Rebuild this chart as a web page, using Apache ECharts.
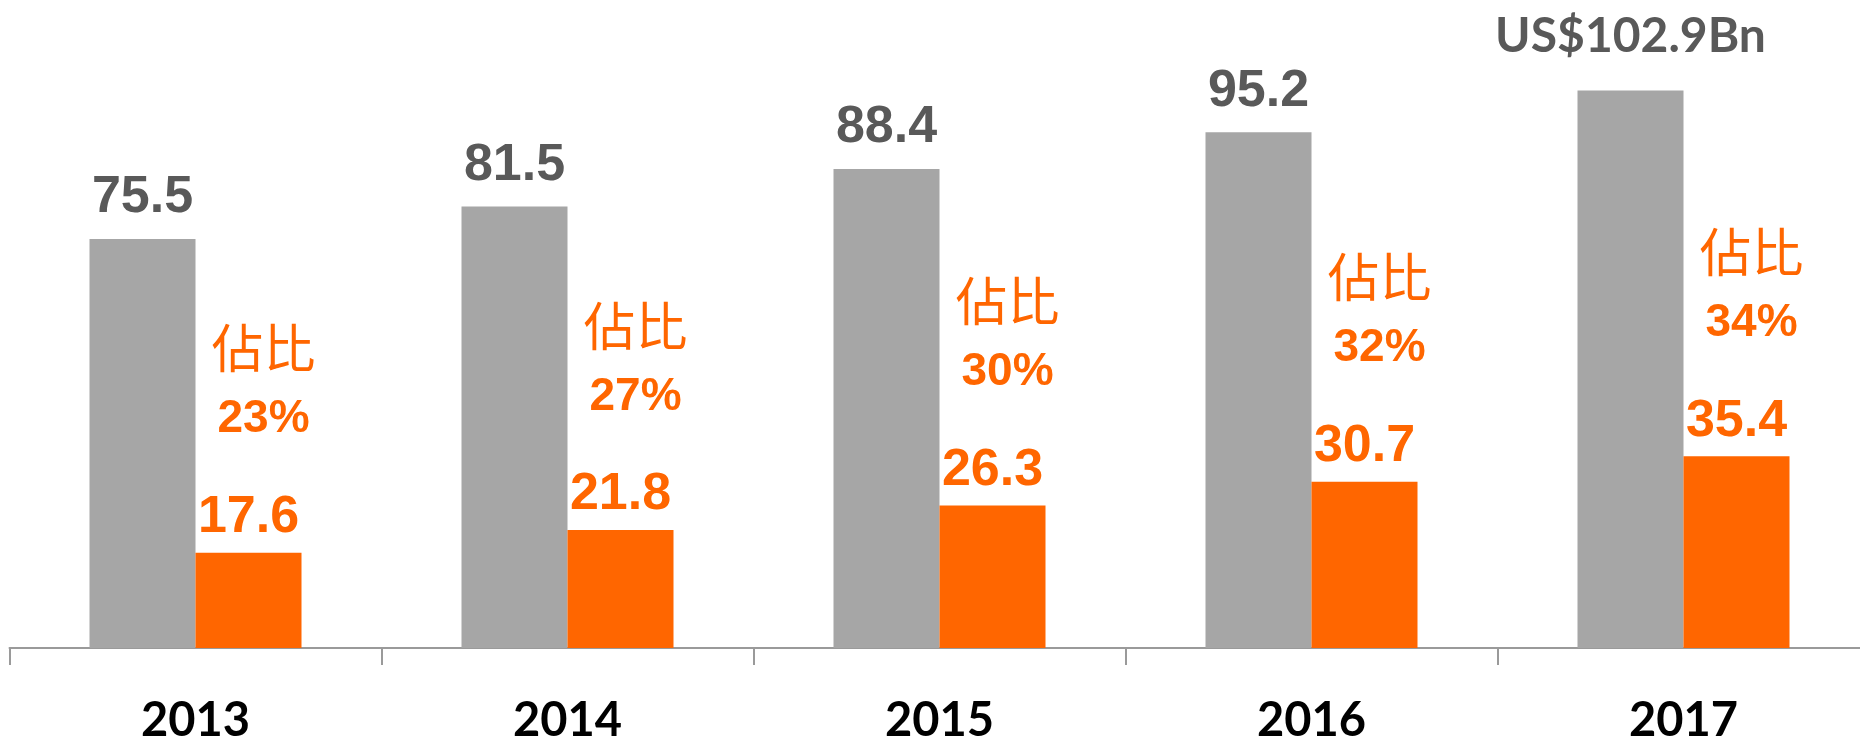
<!DOCTYPE html>
<html>
<head>
<meta charset="utf-8">
<script src="https://cdn.jsdelivr.net/npm/echarts@6/dist/echarts.min.js"></script>
<style>
  html, body { margin: 0; padding: 0; background: #fff; }
  #chart { width: 1860px; height: 736px; }
</style>
</head>
<body>
<div id="chart"></div>
<script>
// data
const years = ["2013", "2014", "2015", "2016", "2017"];
const totalValues = [75.5, 81.5, 88.4, 95.2, 102.9];
const mobileValues = [17.6, 21.8, 26.3, 30.7, 35.4];
const shareLabels = ["23%", "27%", "30%", "32%", "34%"];
const shareTitle = "佔比";

const GRAY = "#A6A6A6";
const ORANGE = "#FF6600";

const chart = echarts.init(document.getElementById("chart"));

// last gray bar carries the unit label
const totalData = totalValues.map((v, i) => {
  if (i !== totalValues.length - 1) return v;
  return {
    value: v,
    label: {
      formatter: "US$" + v + "Bn",
      fontFamily: "Lato",
      fontSize: 48,
      distance: 13,
    },
  };
});

const option = {
  animation: false,
  grid: {
    left: 9.5,
    right: -9.5,
    top: 52,
    bottom: 88,
    containLabel: false,
    outerBoundsMode: "none",
  },
  xAxis: {
    type: "category",
    data: years,
    axisLine: { show: true, lineStyle: { color: "#9A9A9A", width: 2 } },
    axisTick: {
      show: true,
      interval: 0,
      alignWithLabel: false,
      length: 17,
      lineStyle: { color: "#9A9A9A", width: 2 },
    },
    axisLabel: {
      margin: 43,
      fontFamily: "Lato",
      fontWeight: "bold",
      fontSize: 47,
      lineHeight: 60,
      color: "#000",
    },
  },
  yAxis: {
    type: "value",
    min: 0,
    max: 110,
    show: false,
    splitLine: { show: false },
  },
  series: [
    {
      name: "total",
      type: "bar",
      barWidth: 106,
      barGap: "0%",
      itemStyle: { color: GRAY },
      label: {
        show: true,
        position: "top",
        distance: 0,
        fontFamily: "Liberation Sans",
        fontWeight: "bold",
        fontSize: 52,
        lineHeight: 82,
        color: "#595959",
      },
      data: totalData,
    },
    {
      name: "mobile",
      type: "bar",
      barWidth: 106,
      itemStyle: { color: ORANGE },
      label: {
        show: true,
        position: "top",
        distance: -14,
        color: ORANGE,
        formatter: (p) =>
          "{s|" + shareTitle + "}\n{p|" + shareLabels[p.dataIndex] + "}\n{v|" + p.value + "}",
        rich: {
          s: {
            fontFamily: "Noto Sans CJK TC",
            fontSize: 52,
            lineHeight: 44,
            color: ORANGE,
            align: "center",
            padding: [0, 0, 0, 30],
          },
          p: {
            fontFamily: "Liberation Sans",
            fontWeight: "bold",
            fontSize: 46,
            lineHeight: 98,
            color: ORANGE,
            align: "center",
            padding: [0, 0, 0, 30],
          },
          v: {
            fontFamily: "Liberation Sans",
            fontWeight: "bold",
            fontSize: 52,
            lineHeight: 98,
            color: ORANGE,
            align: "center",
          },
        },
      },
      data: mobileValues,
    },
  ],
};

chart.setOption(option);
</script>
</body>
</html>
